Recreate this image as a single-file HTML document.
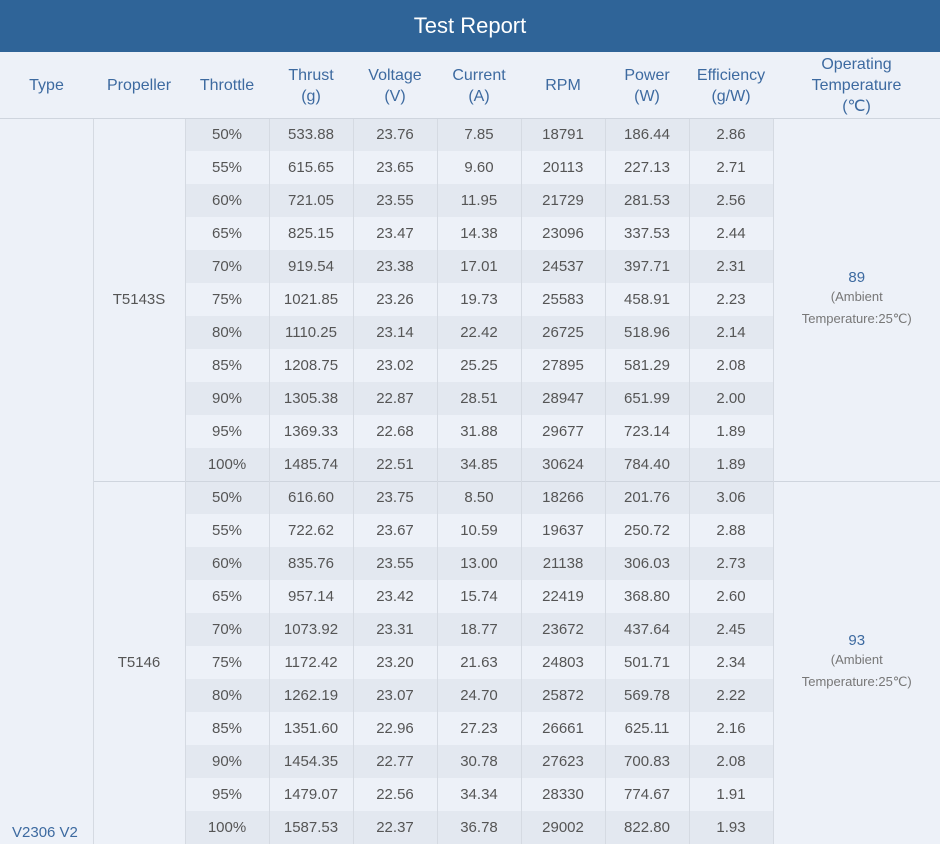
<!DOCTYPE html>
<html><head><meta charset="utf-8"><style>
*{margin:0;padding:0;box-sizing:border-box}
body{width:940px;height:843px;overflow:hidden;background:#edf1f8;font-family:"Liberation Sans",sans-serif;position:relative}
.title{height:52px;background:#2f6498;color:#fff;font-size:22px;text-align:center;line-height:52px}
table{border-collapse:collapse;table-layout:fixed;width:940px;position:absolute;top:52px;left:0}
th{height:66px;color:#3d6aa0;font-weight:normal;font-size:16px;line-height:21px;border-bottom:1px solid #cfd5de;text-align:center;padding-top:2px}
td{height:33px;color:#555;font-size:15px;text-align:center;border-left:1px solid #d5dae2;border-right:1px solid #d5dae2;padding:0}
tr.d td.v{background:#e3e8f0}
td.g{border-top:1px solid #cfd5de;color:#3d6aa0;font-size:15px}
td.p{color:#555}
.amb{color:#777;font-size:13px;line-height:22px}
.type{position:absolute;left:12px;top:824px;color:#3d6aa0;font-size:15px}
</style></head><body>
<div class="title">Test Report</div>
<table>
<colgroup><col style="width:93px"><col style="width:92px"><col style="width:84px"><col style="width:84px"><col style="width:84px"><col style="width:84px"><col style="width:84px"><col style="width:84px"><col style="width:84px"><col style="width:167px"></colgroup>
<tr><th>Type</th><th>Propeller</th><th>Throttle</th><th>Thrust<br>(g)</th><th>Voltage<br>(V)</th><th>Current<br>(A)</th><th>RPM</th><th>Power<br>(W)</th><th>Efficiency<br>(g/W)</th><th>Operating<br>Temperature<br>(℃)</th></tr>
<tr class="d"><td rowspan="22" style="border-left:none"></td><td rowspan="11" class="g p" style="border-top:none">T5143S</td><td class="v">50%</td><td class="v">533.88</td><td class="v">23.76</td><td class="v">7.85</td><td class="v">18791</td><td class="v">186.44</td><td class="v">2.86</td><td rowspan="11" class="g" style="border-top:none;border-right:none">89<div class="amb">(Ambient<br>Temperature:25℃)</div></td></tr>
<tr><td class="v">55%</td><td class="v">615.65</td><td class="v">23.65</td><td class="v">9.60</td><td class="v">20113</td><td class="v">227.13</td><td class="v">2.71</td></tr>
<tr class="d"><td class="v">60%</td><td class="v">721.05</td><td class="v">23.55</td><td class="v">11.95</td><td class="v">21729</td><td class="v">281.53</td><td class="v">2.56</td></tr>
<tr><td class="v">65%</td><td class="v">825.15</td><td class="v">23.47</td><td class="v">14.38</td><td class="v">23096</td><td class="v">337.53</td><td class="v">2.44</td></tr>
<tr class="d"><td class="v">70%</td><td class="v">919.54</td><td class="v">23.38</td><td class="v">17.01</td><td class="v">24537</td><td class="v">397.71</td><td class="v">2.31</td></tr>
<tr><td class="v">75%</td><td class="v">1021.85</td><td class="v">23.26</td><td class="v">19.73</td><td class="v">25583</td><td class="v">458.91</td><td class="v">2.23</td></tr>
<tr class="d"><td class="v">80%</td><td class="v">1110.25</td><td class="v">23.14</td><td class="v">22.42</td><td class="v">26725</td><td class="v">518.96</td><td class="v">2.14</td></tr>
<tr><td class="v">85%</td><td class="v">1208.75</td><td class="v">23.02</td><td class="v">25.25</td><td class="v">27895</td><td class="v">581.29</td><td class="v">2.08</td></tr>
<tr class="d"><td class="v">90%</td><td class="v">1305.38</td><td class="v">22.87</td><td class="v">28.51</td><td class="v">28947</td><td class="v">651.99</td><td class="v">2.00</td></tr>
<tr><td class="v">95%</td><td class="v">1369.33</td><td class="v">22.68</td><td class="v">31.88</td><td class="v">29677</td><td class="v">723.14</td><td class="v">1.89</td></tr>
<tr class="d"><td class="v">100%</td><td class="v">1485.74</td><td class="v">22.51</td><td class="v">34.85</td><td class="v">30624</td><td class="v">784.40</td><td class="v">1.89</td></tr>
<tr class="d"><td rowspan="11" class="g p">T5146</td><td class="v g p">50%</td><td class="v g p">616.60</td><td class="v g p">23.75</td><td class="v g p">8.50</td><td class="v g p">18266</td><td class="v g p">201.76</td><td class="v g p">3.06</td><td rowspan="11" class="g" style="border-right:none">93<div class="amb">(Ambient<br>Temperature:25℃)</div></td></tr>
<tr><td class="v">55%</td><td class="v">722.62</td><td class="v">23.67</td><td class="v">10.59</td><td class="v">19637</td><td class="v">250.72</td><td class="v">2.88</td></tr>
<tr class="d"><td class="v">60%</td><td class="v">835.76</td><td class="v">23.55</td><td class="v">13.00</td><td class="v">21138</td><td class="v">306.03</td><td class="v">2.73</td></tr>
<tr><td class="v">65%</td><td class="v">957.14</td><td class="v">23.42</td><td class="v">15.74</td><td class="v">22419</td><td class="v">368.80</td><td class="v">2.60</td></tr>
<tr class="d"><td class="v">70%</td><td class="v">1073.92</td><td class="v">23.31</td><td class="v">18.77</td><td class="v">23672</td><td class="v">437.64</td><td class="v">2.45</td></tr>
<tr><td class="v">75%</td><td class="v">1172.42</td><td class="v">23.20</td><td class="v">21.63</td><td class="v">24803</td><td class="v">501.71</td><td class="v">2.34</td></tr>
<tr class="d"><td class="v">80%</td><td class="v">1262.19</td><td class="v">23.07</td><td class="v">24.70</td><td class="v">25872</td><td class="v">569.78</td><td class="v">2.22</td></tr>
<tr><td class="v">85%</td><td class="v">1351.60</td><td class="v">22.96</td><td class="v">27.23</td><td class="v">26661</td><td class="v">625.11</td><td class="v">2.16</td></tr>
<tr class="d"><td class="v">90%</td><td class="v">1454.35</td><td class="v">22.77</td><td class="v">30.78</td><td class="v">27623</td><td class="v">700.83</td><td class="v">2.08</td></tr>
<tr><td class="v">95%</td><td class="v">1479.07</td><td class="v">22.56</td><td class="v">34.34</td><td class="v">28330</td><td class="v">774.67</td><td class="v">1.91</td></tr>
<tr class="d"><td class="v">100%</td><td class="v">1587.53</td><td class="v">22.37</td><td class="v">36.78</td><td class="v">29002</td><td class="v">822.80</td><td class="v">1.93</td></tr>
</table>
<div class="type">V2306 V2</div>
</body></html>
